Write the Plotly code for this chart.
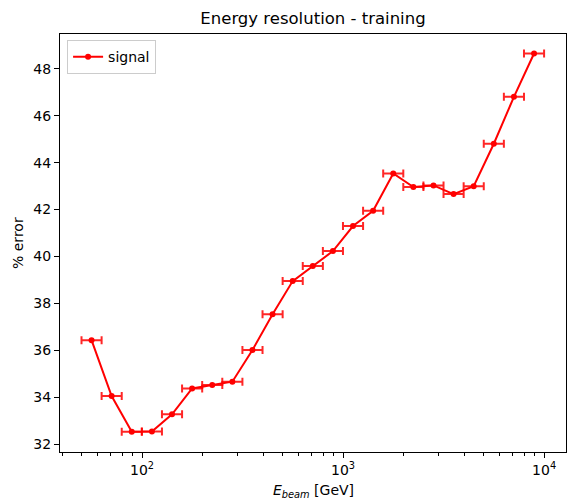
import plotly.graph_objects as go

# Beam energy bins (GeV): centers and bin edges (log-spaced from 50 to 10000)
energy_center = [56.1, 70.6, 88.9, 112.0, 141.0, 177.5, 223.5, 281.4, 354.3, 446.1,
                 561.7, 707.2, 890.4, 1121, 1411, 1777, 2237, 2817, 3547, 4466,
                 5623, 7079, 8913]
energy_low = [50.0, 62.95, 79.26, 99.79, 125.65, 158.2, 199.2, 250.8, 315.8, 397.6,
              500.6, 630.3, 793.6, 999.0, 1257.8, 1583.6, 1993.9, 2510.5, 3160.9, 3979.8,
              5010.9, 6309.1, 7943.5]
energy_high = [62.95, 79.26, 99.79, 125.65, 158.2, 199.2, 250.8, 315.8, 397.6, 500.6,
               630.3, 793.6, 999.0, 1257.8, 1583.6, 1993.9, 2510.5, 3160.9, 3979.8, 5010.9,
               6309.1, 7943.5, 10000.0]
pct_error = [36.43, 34.05, 32.52, 32.53, 33.27, 34.37, 34.52, 34.66, 36.01, 37.54,
             38.95, 39.59, 40.23, 41.30, 41.95, 43.54, 42.96, 43.03, 42.66, 43.00,
             44.81, 46.81, 48.66]

x_tickvals = [100, 1000, 10000]
x_ticktext = ["10<sup>2</sup>", "10<sup>3</sup>", "10<sup>4</sup>"]
x_minor = [40, 50, 60, 70, 80, 90, 200, 300, 400, 500, 600, 700, 800, 900,
           2000, 3000, 4000, 5000, 6000, 7000, 8000, 9000]
y_tickvals = [32, 34, 36, 38, 40, 42, 44, 46, 48]

err_plus = [h - c for h, c in zip(energy_high, energy_center)]
err_minus = [c - l for c, l in zip(energy_center, energy_low)]

FONT = "DejaVu Sans"
W, H = 572, 500
L, R, T, B = 60, 6, 34, 48

fig = go.Figure()
fig.add_trace(go.Scatter(
    x=energy_center, y=pct_error, mode="lines+markers", name="signal",
    line=dict(color="red", width=2),
    marker=dict(color="red", size=6),
    error_x=dict(type="data", symmetric=False, array=err_plus, arrayminus=err_minus,
                 color="rgba(255,0,0,0.85)", thickness=2, width=4),
))

fig.update_layout(
    width=W, height=H,
    margin=dict(l=L, r=R, t=T, b=B, autoexpand=False),
    paper_bgcolor="white", plot_bgcolor="white",
    font=dict(family=FONT, size=14, color="black"),
    title=dict(text="Energy resolution - training", x=0.5, xref="paper",
               y=1 - 18 / H, yref="container", yanchor="middle",
               xanchor="center", font=dict(size=16.5, family=FONT)),
    showlegend=True,
    legend=dict(x=0.014, y=0.985, xanchor="left", yanchor="top",
                bgcolor="white", bordercolor="#cccccc", borderwidth=1,
                font=dict(size=14, family=FONT)),
    annotations=[
        dict(text="<i>E</i><sub><i>beam</i></sub> [GeV]", xref="paper", yref="paper",
             x=0.5, y=-(491 - (H - B)) / (H - T - B), xanchor="center", yanchor="middle",
             showarrow=False, font=dict(size=14, family=FONT)),
        dict(text="% error", xref="paper", yref="paper",
             x=-(L - 18) / (W - L - R), y=0.5, xanchor="center", yanchor="middle",
             textangle=-90, showarrow=False, font=dict(size=14, family=FONT)),
    ],
)

fig.update_xaxes(
    type="log", range=[1.592, 4.109], automargin=False,
    showline=True, linecolor="black", linewidth=1, mirror=True,
    showgrid=False, zeroline=False,
    ticks="outside", ticklen=5, tickcolor="black", tickwidth=1,
    tickmode="array", tickvals=x_tickvals, ticktext=x_ticktext,
    tickfont=dict(size=14, family=FONT),
    minor=dict(ticks="outside", ticklen=3, tickcolor="black", tickwidth=1,
               tickmode="array", tickvals=x_minor, showgrid=False),
)
fig.update_yaxes(
    range=[31.66, 49.49], automargin=False,
    showline=True, linecolor="black", linewidth=1, mirror=True,
    showgrid=False, zeroline=False,
    ticks="outside", ticklen=5, tickcolor="black", tickwidth=1,
    tickmode="array", tickvals=y_tickvals,
    tickfont=dict(size=14, family=FONT),
)

fig.write_html("out.html",
               config={"displayModeBar": False},
               post_script="document.body.style.margin='0';document.body.style.overflow='hidden';")
